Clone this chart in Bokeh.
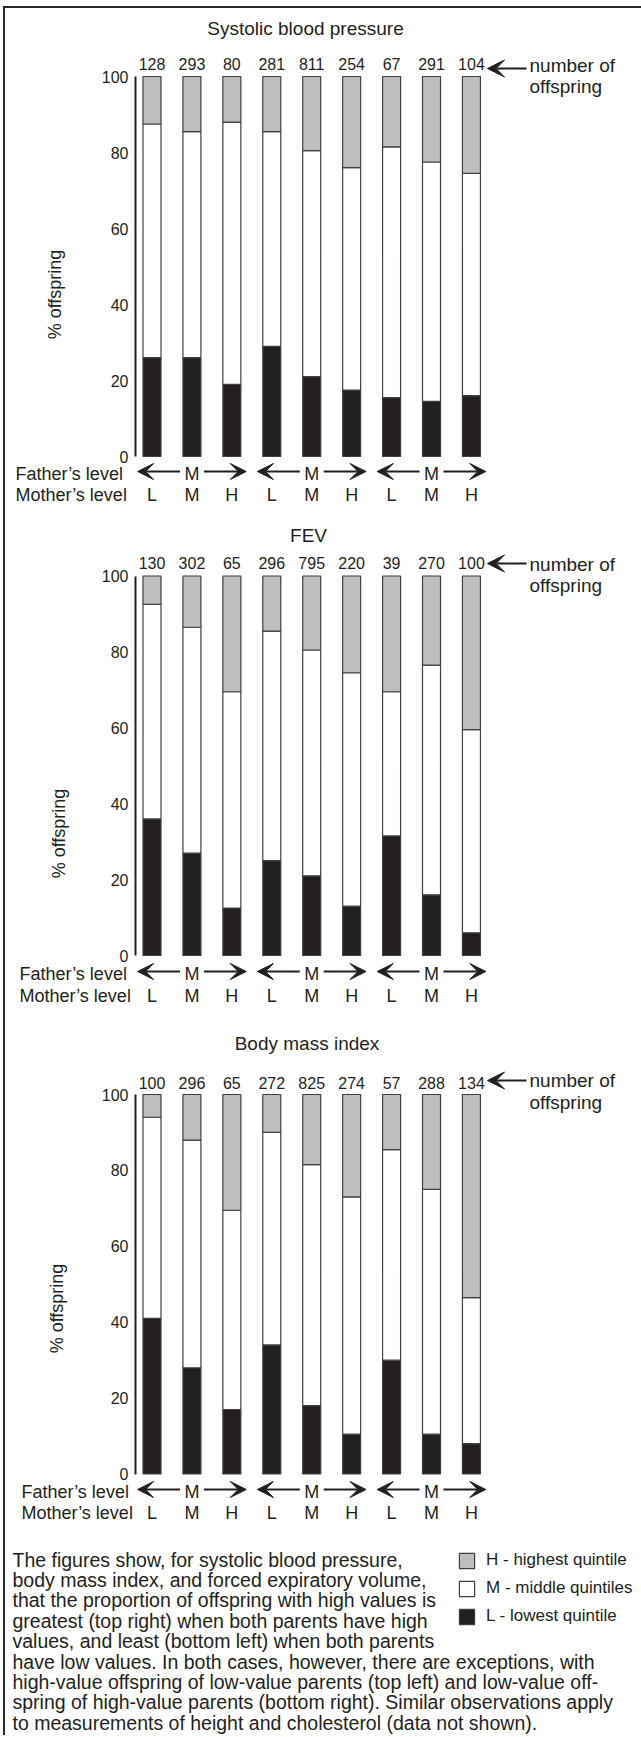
import numpy as np
from bokeh.plotting import figure
from bokeh.models import (ColumnDataSource, Range1d, FixedTicker, Label, Arrow,
                          VeeHead, Legend, LegendItem)
from bokeh.layouts import column
from bokeh.embed import file_html
from bokeh.resources import INLINE
from bokeh.core.properties import value

# ---------------- data ----------------
mother_levels = ["L", "M", "H", "L", "M", "H", "L", "M", "H"]
father_groups = ["M", "M", "M"]
quintile_labels = ["L - lowest quintile", "M - middle quintiles", "H - highest quintile"]
y_ticks = [0, 20, 40, 60, 80, 100]

sbp_title = "Systolic blood pressure"
sbp_n = [128, 293, 80, 281, 811, 254, 67, 291, 104]
sbp_low = [26, 26, 19, 29, 21, 17.5, 15.5, 14.5, 16]
sbp_mid = [61.5, 59.5, 69, 56.5, 59.5, 58.5, 66, 63, 58.5]
sbp_high = [12.5, 14.5, 12, 14.5, 19.5, 24, 18.5, 22.5, 25.5]

fev_title = "FEV"
fev_n = [130, 302, 65, 296, 795, 220, 39, 270, 100]
fev_low = [36, 27, 12.5, 25, 21, 13, 31.5, 16, 6]
fev_mid = [56.5, 59.5, 57, 60.5, 59.5, 61.5, 38, 60.5, 53.5]
fev_high = [7.5, 13.5, 30.5, 14.5, 19.5, 25.5, 30.5, 23.5, 40.5]

bmi_title = "Body mass index"
bmi_n = [100, 296, 65, 272, 825, 274, 57, 288, 134]
bmi_low = [41, 28, 17, 34, 18, 10.5, 30, 10.5, 8]
bmi_mid = [53, 60, 52.5, 56, 63.5, 62.5, 55.5, 64.5, 38.5]
bmi_high = [6, 12, 30.5, 10, 18.5, 27, 14.5, 25, 53.5]

paragraph = [
    "The figures show, for systolic blood pressure,",
    "body mass index, and forced expiratory volume,",
    "that the proportion of offspring with high values is",
    "greatest (top right) when both parents have high",
    "values, and least (bottom left) when both parents",
    "have low values. In both cases, however, there are exceptions, with",
    "high-value offspring of low-value parents (top left) and low-value off-",
    "spring of high-value parents (bottom right). Similar observations apply",
    "to measurements of height and cholesterol (data not shown).",
]

# ---------------- styling / layout ----------------
FONT = "Liberation Sans"
INK = "#231f20"
GRAY = "#bcbec0"
EDGE = "#404040"
FRAME = "#2b2b2b"
W = 636
OX = 5             # page x = figure x + OX (3px margin + 2px frame line)
BAR0 = 151.5       # page x of first bar centre
STEP = 39.93       # px between bar centres
AXIS_X = 135       # page x of y axis
BAR_W = 18


def xd(px):
    return (px - BAR0) / STEP


geoms = [
    dict(top=8, h=507, y0=456, y100=76, title_x=305, title_y=27.5, num_y=63,
         arrow_y=68, nof_y=65, offs_y=86, father_y=473, mother_y=494,
         lab_x=15, pct_x=54, pct_y=294),
    dict(top=515, h=505, y0=955, y100=575.5, title_x=308, title_y=535, num_y=562.5,
         arrow_y=563, nof_y=563.5, offs_y=585, father_y=973, mother_y=995,
         lab_x=19, pct_x=58, pct_y=833),
    dict(top=1020, h=715, y0=1473.5, y100=1094, title_x=306.5, title_y=1043, num_y=1082,
         arrow_y=1080, nof_y=1080, offs_y=1102, father_y=1491, mother_y=1512,
         lab_x=21, pct_x=56, pct_y=1308),
]


def make_panel(title, n, low, mid, high, g):
    ppu = (g["y0"] - g["y100"]) / 100.0

    def yd(py):
        return (g["y0"] - py) / ppu

    p = figure(width=W, height=g["h"],
               x_range=Range1d(xd(OX), xd(OX + W)),
               y_range=Range1d(yd(g["top"] + g["h"]), yd(g["top"])),
               output_backend="svg", toolbar_location=None,
               x_axis_location=None, y_axis_location="left", min_border=0)
    p.grid.visible = False
    p.outline_line_color = None
    p.background_fill_color = "white"

    ax = p.yaxis[0]
    ax.fixed_location = xd(AXIS_X)
    ax.ticker = FixedTicker(ticks=y_ticks)
    ax.bounds = (0, 100)
    ax.axis_line_width = 2
    ax.axis_line_color = INK
    ax.major_tick_line_color = None
    ax.minor_tick_line_color = None
    ax.major_tick_out = 0
    ax.major_tick_in = 0
    ax.major_label_standoff = 7
    ax.major_label_text_font = FONT
    ax.major_label_text_font_size = "16px"
    ax.major_label_text_color = INK

    idx = list(range(len(n)))
    src = ColumnDataSource(dict(x=idx, L=low, M=mid, H=high,
                                n=[str(v) for v in n], mother=mother_levels))
    rs = p.vbar_stack(["L", "M", "H"], x="x", width=BAR_W / STEP, source=src,
                      fill_color=[INK, "white", GRAY], line_color=EDGE, line_width=1.2)

    p.text(x="x", y=yd(g["num_y"]), text="n", source=src, text_align="center",
           text_baseline="middle", text_font=value(FONT), text_font_size="16px",
           text_color=INK)
    p.text(x="x", y=yd(g["mother_y"]), text="mother", source=src, text_align="center",
           text_baseline="middle", text_font=value(FONT), text_font_size="18px",
           text_color=INK)

    centres = [3 * k + 1 for k in range(len(father_groups))]
    p.text(x=centres, y=[yd(g["father_y"])] * len(centres), text=father_groups,
           text_align="center", text_baseline="middle", text_font=value(FONT),
           text_font_size="18px", text_color=INK)
    ya = yd(g["father_y"] - 2)
    for c in centres:
        for tail, tip in [(c - 0.3, c - 1.36), (c + 0.3, c + 1.36)]:
            p.add_layout(Arrow(x_start=tail, y_start=ya, x_end=tip, y_end=ya,
                               line_color=INK, line_width=2,
                               end=VeeHead(size=16, fill_color=INK, line_color=INK,
                                           line_width=1)))

    # number of offspring pointer
    yarr = yd(g["arrow_y"])
    p.add_layout(Arrow(x_start=xd(526), y_start=yarr, x_end=xd(487), y_end=yarr,
                       line_color=INK, line_width=2,
                       end=VeeHead(size=17, fill_color=INK, line_color=INK, line_width=1)))
    p.add_layout(Label(x=xd(529), y=yd(g["nof_y"]), text="number of", text_align="left",
                       text_baseline="middle", text_font=FONT, text_font_size="19px",
                       text_color=INK))
    p.add_layout(Label(x=xd(529), y=yd(g["offs_y"]), text="offspring", text_align="left",
                       text_baseline="middle", text_font=FONT, text_font_size="19px",
                       text_color=INK))

    p.add_layout(Label(x=xd(g["title_x"]), y=yd(g["title_y"]), text=title,
                       text_align="center", text_baseline="middle", text_font=FONT,
                       text_font_size="19px", text_color=INK))
    p.add_layout(Label(x=xd(g["lab_x"]), y=yd(g["father_y"]), text="Father\u2019s level",
                       text_align="left", text_baseline="middle", text_font=FONT,
                       text_font_size="18px", text_color=INK))
    p.add_layout(Label(x=xd(g["lab_x"]), y=yd(g["mother_y"]), text="Mother\u2019s level",
                       text_align="left", text_baseline="middle", text_font=FONT,
                       text_font_size="18px", text_color=INK))
    p.add_layout(Label(x=xd(g["pct_x"]), y=yd(g["pct_y"]), text="% offspring",
                       angle=np.pi / 2, text_align="center", text_baseline="middle",
                       text_font=FONT, text_font_size="18px", text_color=INK))
    return p, rs, yd


p1, _, _ = make_panel(sbp_title, sbp_n, sbp_low, sbp_mid, sbp_high, geoms[0])
p2, _, _ = make_panel(fev_title, fev_n, fev_low, fev_mid, fev_high, geoms[1])
p3, rs3, yd3 = make_panel(bmi_title, bmi_n, bmi_low, bmi_mid, bmi_high, geoms[2])

# ---------------- caption + legend (in the lower part of the last panel) ----------------
para_y = [yd3(1559 + 20.4 * k) for k in range(len(paragraph))]
p3.text(x=[xd(12)] * len(paragraph), y=para_y, text=paragraph, text_align="left",
        text_baseline="alphabetic", text_font=value(FONT), text_font_size="19.5px",
        text_color=INK)

bottom_page = geoms[2]["top"] + geoms[2]["h"]
items = [LegendItem(label=quintile_labels[i], renderers=[rs3[i]]) for i in (2, 1, 0)]
legend = Legend(items=items, location=(457 - OX, bottom_page - (1553 + 73)),
                orientation="vertical",
                glyph_width=19, glyph_height=19, label_height=19, label_standoff=10,
                spacing=8, padding=0, margin=0, border_line_color=None,
                background_fill_alpha=0, label_text_font=FONT,
                label_text_font_size="17px", label_text_color=INK)
p3.add_layout(legend)

layout = column(p1, p2, p3, spacing=0,
                styles={"margin-left": "3px", "margin-top": "6px",
                        "border-left": "2px solid " + FRAME, "border-top": "2px solid " + FRAME})

open("out.html", "w").write(file_html(layout, INLINE))
